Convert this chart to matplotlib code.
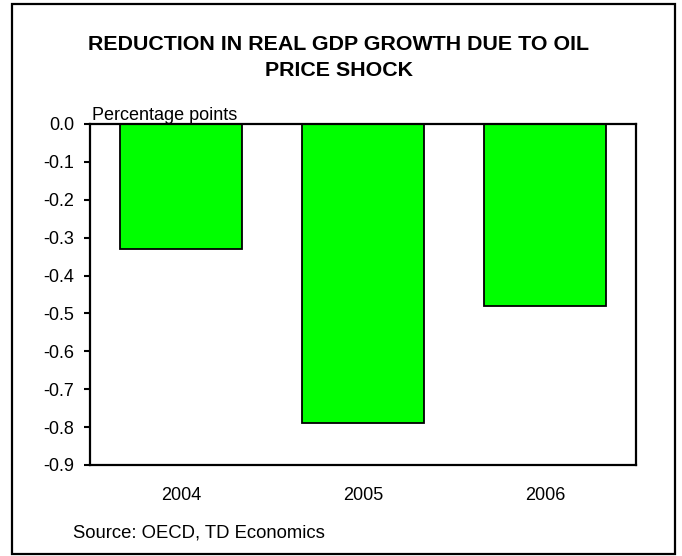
import matplotlib
matplotlib.use("Agg")
import matplotlib.pyplot as plt
from matplotlib.patches import Rectangle

# Reduction in real GDP growth from the oil price shock (OECD estimates)
years = ["2004", "2005", "2006"]
gdp_reduction = [-0.33, -0.79, -0.48]
y_ticks = [0.0, -0.1, -0.2, -0.3, -0.4, -0.5, -0.6, -0.7, -0.8, -0.9]

plt.rcParams["font.family"] = ["Liberation Sans", "DejaVu Sans"]

fig = plt.figure(figsize=(6.82, 5.56), dpi=100)
ax = fig.add_axes([0.132, 0.1637, 0.8006, 0.6133])

x = list(range(len(years)))
ax.bar(x, gdp_reduction, width=0.67, color="#00ff00", edgecolor="black",
       linewidth=1.3, zorder=2)

ax.set_xlim(-0.5, len(years) - 0.5)
ax.set_ylim(-0.9, 0.0)
ax.set_yticks(y_ticks)
ax.set_yticklabels([f"{v:.1f}" for v in y_ticks])
ax.set_xticks(x)
ax.set_xticklabels(years)

ax.tick_params(axis="y", direction="out", length=4.5, width=1.5, pad=7,
               labelsize=13)
ax.tick_params(axis="x", length=0, pad=16, labelsize=13)
for spine in ax.spines.values():
    spine.set_linewidth(1.6)

ax.text(0.003, 1.0, "Percentage points", transform=ax.transAxes,
        fontsize=13, ha="left", va="bottom")

fig.text(0.497, 0.8966, "REDUCTION IN REAL GDP GROWTH DUE TO OIL\nPRICE SHOCK",
         ha="center", va="center", fontsize=15.4, fontweight="bold",
         linespacing=1.5)
fig.text(0.107, 0.041, "Source: OECD, TD Economics", ha="left", va="center",
         fontsize=13.3)

# frame around the whole chart
fig.patches.append(Rectangle((12 / 682, 2 / 556), 663 / 682, 550 / 556,
                             transform=fig.transFigure, fill=False,
                             edgecolor="black", linewidth=1.6))

fig.savefig("out.png", dpi=100)
